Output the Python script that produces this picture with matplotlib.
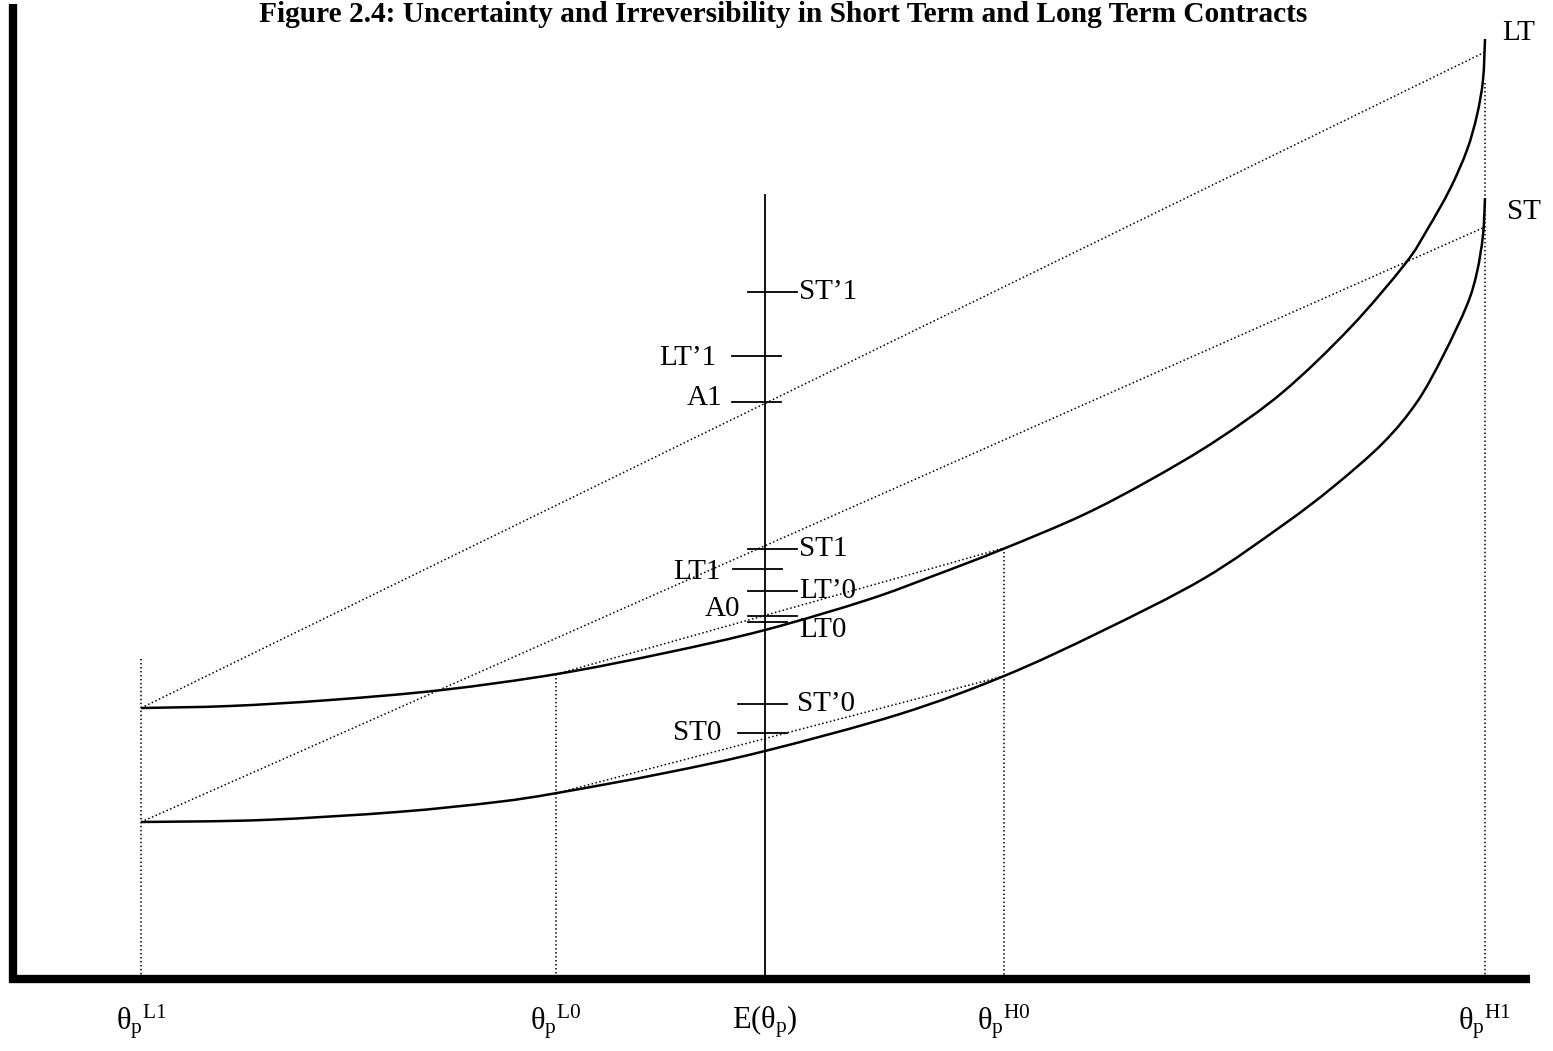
import numpy as np
import matplotlib
matplotlib.use("Agg")
import matplotlib.pyplot as plt
from matplotlib.path import Path
from matplotlib.patches import PathPatch

plt.rcParams['font.family'] = ['Liberation Serif', 'DejaVu Serif']
plt.rcParams['mathtext.fontset'] = 'custom'
plt.rcParams['mathtext.rm'] = 'Liberation Serif'
plt.rcParams['mathtext.it'] = 'Liberation Serif'
plt.rcParams['mathtext.bf'] = 'Liberation Serif:bold'

# curve points (pixel-like coordinates, y grows downwards)
lt_x = [141, 230, 330, 442, 557, 665, 765, 867, 933, 1003, 1083, 1150, 1217, 1283,
        1350, 1405, 1427, 1450, 1467, 1477, 1483, 1485]
lt_y = [708, 706, 700, 690, 674, 653, 630, 600, 576, 549, 515, 480, 440, 392,
        328, 264, 230, 189, 150, 115, 80, 39]
st_x = [141, 263, 397, 497, 557, 665, 765, 900, 1004, 1100, 1203, 1283,
        1333, 1383, 1417, 1443, 1467, 1477, 1483, 1485]
st_y = [822, 820, 812, 802, 793, 773, 751, 714, 676, 632, 579, 525,
        487, 443, 402, 356, 305, 272, 235, 198]

# theta positions on the horizontal axis
theta_x = [141, 556, 765, 1004, 1485]
theta_top = [659, 674, 195, 548, 83]
theta_labels = [r'$\theta_{p}{}^{L1}$', r'$\theta_{p}{}^{L0}$', r'$E(\theta_{p})$',
                r'$\theta_{p}{}^{H0}$', r'$\theta_{p}{}^{H1}$']

# dotted chords (x0, y0, x1, y1)
chords = [(141, 708, 1485, 52), (141, 822, 1485, 227),
          (557, 674, 1004, 548), (557, 793, 1004, 676)]

# ticks on the E(theta) line
tick_names = ["ST\u20191", "LT\u20191", "A1", "ST1", "LT1", "LT\u20190", "A0", "LT0", "ST\u20190", "ST0"]
tick_y = [292, 356, 402, 549, 569, 591, 616, 622, 704, 733]
tick_x0 = [748, 732, 732, 748, 733, 748, 748, 748, 738, 738]
tick_x1 = [797, 781, 781, 797, 782, 797, 797, 787, 787, 787]
label_x = [799, 716, 722, 799, 721, 799, 740, 799, 797, 721]
label_y = [292, 358, 398, 549, 572, 591, 609, 630, 704, 733]
label_ha = ['left', 'right', 'right', 'left', 'right', 'left', 'right', 'left', 'left', 'right']

axis_y = 979


def smooth_path(xs, ys):
    # Catmull-Rom through the read points, as cubic Bezier segments
    p = np.column_stack([xs, ys]).astype(float)
    verts = [p[0]]
    codes = [Path.MOVETO]
    n = len(p)
    for i in range(n - 1):
        p0 = p[i - 1] if i > 0 else p[i]
        p3 = p[i + 2] if i + 2 < n else p[i + 1]
        c1 = p[i] + (p[i + 1] - p0) / 6.0
        c2 = p[i + 1] - (p3 - p[i]) / 6.0
        verts += [c1, c2, p[i + 1]]
        codes += [Path.CURVE4] * 3
    return Path(verts, codes)


fig = plt.figure(figsize=(15.53, 10.51), dpi=100)
ax = fig.add_axes([0, 0, 1, 1])
ax.set_xlim(0, 1553)
ax.set_ylim(1051, 0)
ax.axis('off')

# axes
ax.plot([13, 13], [4, 983], color='black', lw=6, solid_capstyle='butt')
ax.plot([9, 1530], [axis_y, axis_y], color='black', lw=6, solid_capstyle='butt')

dots = (0, (1, 1.6))
for x, top in zip(theta_x, theta_top):
    if x == 765:
        ax.plot([x, x], [top, axis_y - 4], color='black', lw=1.3)
    else:
        ax.plot([x, x], [top, axis_y - 4], color='black', lw=1.1, linestyle=dots)

for x0, y0, x1, y1 in chords:
    ax.plot([x0, x1], [y0, y1], color='black', lw=1.1, linestyle=dots)

for xs, ys in [(lt_x, lt_y), (st_x, st_y)]:
    ax.add_patch(PathPatch(smooth_path(xs, ys), facecolor='none', edgecolor='black', lw=1.8))

for name, y, x0, x1, lx, ly, ha in zip(tick_names, tick_y, tick_x0, tick_x1, label_x, label_y, label_ha):
    ax.plot([x0, x1], [y, y], color='black', lw=1.3)
    ax.text(lx, ly, name, fontsize=21, ha=ha, va='center')

for x, lab in zip(theta_x, theta_labels):
    ax.text(x, 1022, lab, fontsize=22, ha='center', va='center')

ax.text(1502, 33, 'LT', fontsize=21, ha='left', va='center')
ax.text(1507, 212, 'ST', fontsize=21, ha='left', va='center')

ax.text(783, 14, 'Figure 2.4: Uncertainty and Irreversibility in Short Term and Long Term Contracts',
        fontsize=21.2, fontweight='bold', ha='center', va='center')

fig.savefig('out.png', dpi=100)
